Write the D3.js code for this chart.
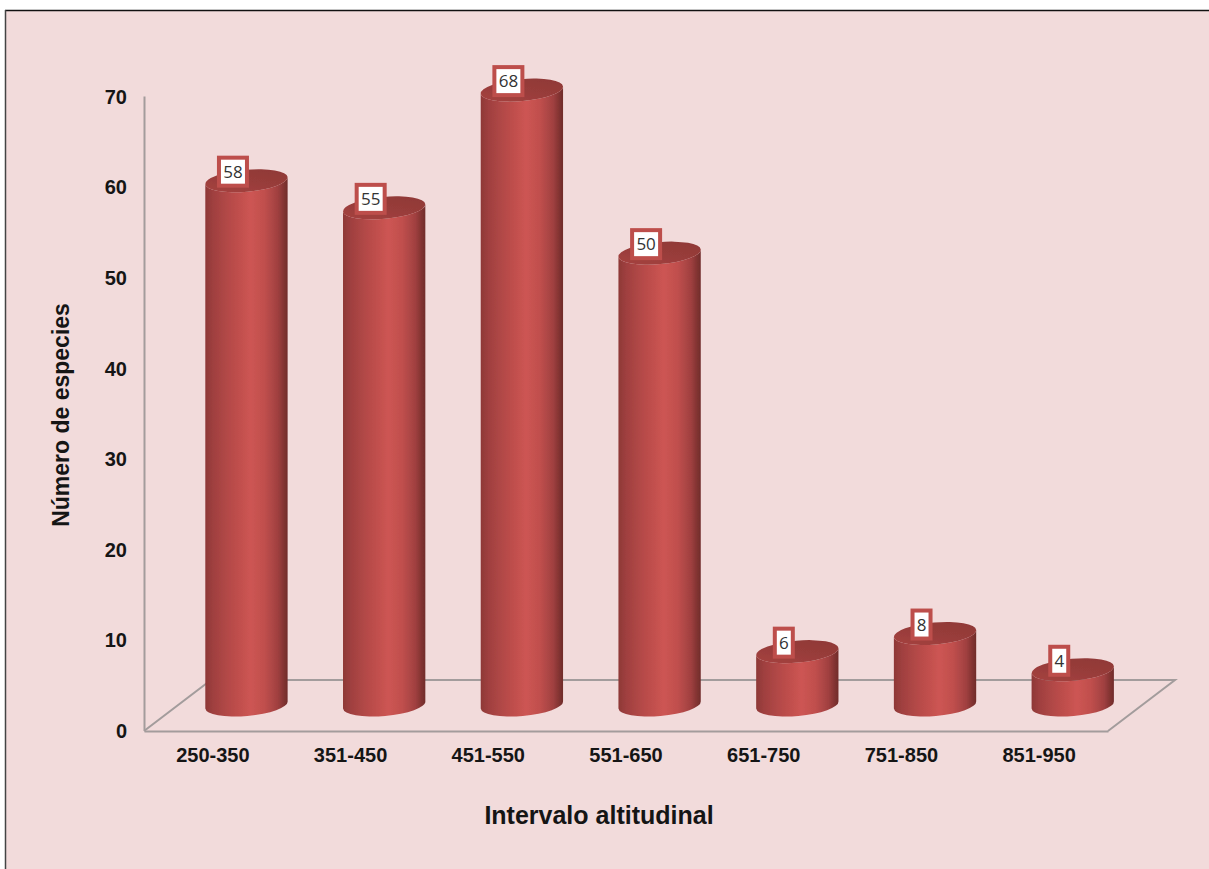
<!DOCTYPE html>
<html><head><meta charset="utf-8">
<script src="https://cdn.jsdelivr.net/npm/d3@7/dist/d3.min.js"></script>
<style>html,body{margin:0;padding:0;background:#fff}svg{display:block}
text{font-family:"Liberation Sans",Arial,sans-serif}</style></head>
<body><svg id="c" width="1209" height="869"></svg>
<script>
const categories=["250-350","351-450","451-550","551-650","651-750","751-850","851-950"];
const values=[58,55,68,50,6,8,4];
const yTicks=[0,10,20,30,40,50,60,70];
const xTitle="Intervalo altitudinal", yTitle="Número de especies";

const W=1209,H=869;
const svg=d3.select("#c");
const x=d3.scaleBand().domain(categories).range([144,1108]);
const y=d3.scaleLinear().domain([0,70]).range([730,96]);
const depthX=33.6, depthY=24;
const floorDX=67, floorDY=50;
const rx=x.bandwidth()*0.3, ry=11, tilt=5*Math.PI/180;

const defs=svg.append("defs");
const body=defs.append("linearGradient").attr("id","body");
[[0,"#8e3836"],[0.1,"#a04040"],[0.3,"#b64a48"],[0.55,"#cd5553"],[0.72,"#c04f4d"],[0.88,"#a04040"],[0.96,"#7f3230"],[1,"#702c2b"]]
 .forEach(d=>body.append("stop").attr("offset",d[0]).attr("stop-color",d[1]));
const top_=defs.append("linearGradient").attr("id","top").attr("x1",0).attr("x2",1).attr("y1",1).attr("y2",0);
[[0,"#a84341"],[0.5,"#983c3a"],[1,"#8e3836"]]
 .forEach(d=>top_.append("stop").attr("offset",d[0]).attr("stop-color",d[1]));
defs.append("filter").attr("id","soft").attr("x","-5%").attr("y","-5%").attr("width","110%").attr("height","110%")
 .append("feGaussianBlur").attr("stdDeviation",0.6);

svg.append("rect").attr("x",6).attr("y",11).attr("width",W-6).attr("height",H-11).attr("fill","#f2dbdb");
svg.append("line").attr("x1",5).attr("x2",W).attr("y1",10.5).attr("y2",10.5).attr("stroke","#111").attr("stroke-width",1.5);
svg.append("line").attr("x1",5.5).attr("x2",5.5).attr("y1",10).attr("y2",H).attr("stroke","#444").attr("stroke-width",1.5);

const axisColor="#a39c9c";
const [x0,x1]=x.range();
svg.append("path")
 .attr("d",`M${x0},${y(0)+1}L${x0+floorDX},${y(0)-floorDY}L${x1+floorDX},${y(0)-floorDY}L${x1},${y(0)+1}`)
 .attr("fill","none").attr("stroke",axisColor).attr("stroke-width",2);

const gy=svg.append("g").attr("transform",`translate(${x0},0)`)
 .call(d3.axisLeft(y).tickValues(yTicks).tickSize(0).tickPadding(17));
const gx=svg.append("g").attr("transform",`translate(0,${y(0)+1})`)
 .call(d3.axisBottom(x).tickSize(0).tickPadding(17));
[gy,gx].forEach(g=>{
  g.select(".domain").attr("stroke",axisColor).attr("stroke-width",2);
  g.selectAll("text").attr("font-size",20).attr("font-weight","bold").attr("fill","#151515")
   .attr("font-family",'"Liberation Sans",Arial,sans-serif');
});
gy.selectAll("text").attr("dy","0.37em");

const cx=d=>x(d.c)+x.bandwidth()/2+depthX;
const yTop=d=>y(d.v)-depthY, yBase=()=>y(0)-depthY;
const dxE=rx*Math.cos(tilt), dyE=rx*Math.sin(tilt), deg=-tilt*180/Math.PI;
const data=categories.map((c,i)=>({c,v:values[i]}));
const bars=svg.append("g").attr("filter","url(#soft)").selectAll("g").data(data).join("g");
bars.append("path").attr("fill","url(#body)")
 .attr("d",d=>{const a=cx(d),t=yTop(d),b=yBase()-1;
   return `M${a-dxE},${t+dyE}L${a-dxE},${b+dyE}A${rx},${ry} ${deg} 0 0 ${a+dxE},${b-dyE}L${a+dxE},${t-dyE}A${rx},${ry} ${deg} 0 1 ${a-dxE},${t+dyE}Z`;});
bars.append("ellipse").attr("fill","url(#top)")
 .attr("rx",rx).attr("ry",ry).attr("cx",cx).attr("cy",yTop)
 .attr("transform",d=>`rotate(${deg} ${cx(d)} ${yTop(d)})`);

const lab=svg.append("g").selectAll("g").data(data).join("g")
 .attr("transform",d=>`translate(${cx(d)-13.5},${yTop(d)-9})`);
lab.append("rect").attr("x",d=>d.v>=10?-14:-9).attr("y",-14).attr("width",d=>d.v>=10?28:18).attr("height",28)
 .attr("fill","#fff").attr("stroke","#bd4e4b").attr("stroke-width",4);
lab.append("text").attr("text-anchor","middle").attr("dy","0.36em").attr("font-size",17)
 .attr("fill","#333").style("font-family",'"Open Sans","Liberation Sans",sans-serif').text(d=>d.v);

svg.append("text").attr("x",599).attr("y",824).attr("text-anchor","middle")
 .attr("font-size",25).attr("font-weight","bold").attr("fill","#151515").text(xTitle);
svg.append("text").attr("transform","translate(69,415) rotate(-90)").attr("text-anchor","middle")
 .attr("font-size",23).attr("font-weight","bold").attr("fill","#151515").text(yTitle);
</script></body></html>
